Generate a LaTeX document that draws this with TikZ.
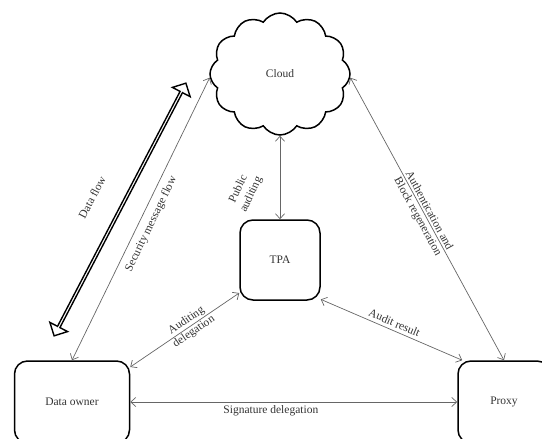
\documentclass[tikz,border=0pt]{standalone}
\usepackage{fontspec}
\setmainfont{Liberation Serif}
\usetikzlibrary{shapes.symbols,shapes.arrows,arrows.meta,calc}

\tikzset{
  party/.style={draw=black, line width=1.5pt, rounded corners=13pt, minimum height=82pt, text=black!80},
  link/.style={draw=black!60, line width=0.7pt, {Straight Barb[length=5pt,width=9pt]}-{Straight Barb[length=5pt,width=9pt]}},
  lbl/.style={text=black!80, align=center},
}

\begin{document}
\begin{tikzpicture}[x=1pt, y=-1pt, font=\fontsize{11.5}{14}\selectfont]
    \useasboundingbox (0,0) rectangle (542,439);
    \clip (0,0) rectangle (542,439);

    % Define the parties
    \node[cloud, draw, line width=1.5pt, cloud puffs=12, cloud puff arc=115,
          minimum width=140pt, minimum height=122pt, text=black!80] (cloud) at (280,74) {Cloud};
    \node[party, minimum width=80pt, minimum height=80pt] (tpa) at (280,260) {TPA};
    \node[party, minimum width=115pt] (owner) at (72,402) {Data owner};
    \node[party, minimum width=92pt] (proxy) at (504,402) {Proxy};

    % Data flow
    \node[double arrow, draw, line width=1.4pt, inner sep=0pt, minimum height=285pt,
          minimum width=20pt, double arrow head extend=4.5pt, rotate=62.45] (dataflow) at (120,209.5) {};
    \node[lbl, rotate=62.45] (dflabel) at ($(dataflow.center)+(-28,-12)$) {Data flow};

    % Links between the parties
    \draw[link] (owner.north) -- (cloud.183)
        node[lbl, midway, sloped, below, inner sep=6pt] {Security message flow};
    \draw[link] (cloud.south) -- (tpa.north);
    \node[lbl, rotate=65] (pubaud) at ($(cloud.south)!0.67!(tpa.north) + (-35,0)$) {Public\\auditing};
    \draw[link] (cloud.357) -- (proxy.north)
        node[lbl, pos=0.48, sloped, above, inner sep=2pt] {Authentication and}
        node[lbl, pos=0.48, sloped, below, inner sep=2pt] {Block regeneration};
    \draw[link] (owner.31) -- (tpa.219)
        node[lbl, pos=0.55, sloped, above, inner sep=1pt] {Auditing}
        node[lbl, pos=0.55, sloped, below, inner sep=1pt] {delegation};
    \draw[link] (tpa.316) -- (proxy.135)
        node[lbl, midway, sloped, above] {Audit result};
    \draw[link] (owner.east) -- (proxy.west)
        node[lbl, pos=0.43, below] {Signature delegation};

\end{tikzpicture}
\end{document}
